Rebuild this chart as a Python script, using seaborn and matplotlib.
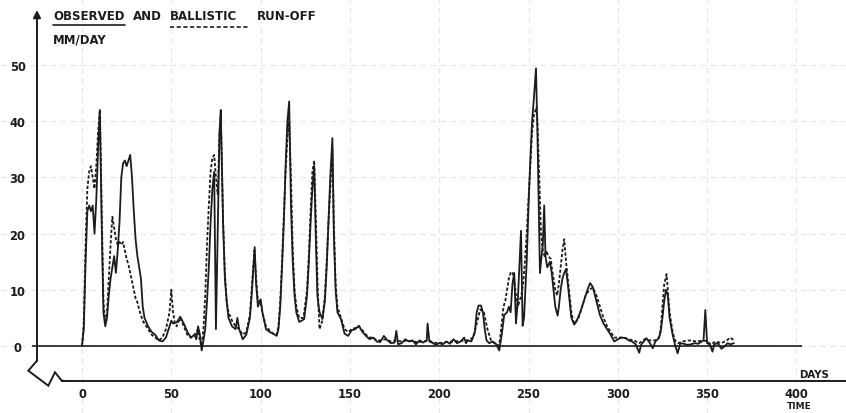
import numpy as np
import pandas as pd
import matplotlib
matplotlib.use("Agg")
import matplotlib.pyplot as plt
import seaborn as sns

# ---------------- data ----------------
obs_day = [0, 1, 2, 3, 4, 5, 6, 7, 8, 9, 10, 11, 12, 13, 14, 15, 16, 17, 18, 19,
           20, 21, 22, 23, 24, 25, 26, 27, 28, 29, 30, 31, 32, 33, 34, 35, 37, 39,
           41, 43, 45, 47, 49, 50, 51, 53, 55, 57, 59, 61, 63, 64, 65, 66, 67, 68,
           69, 70, 71, 72, 73, 74, 75, 76, 77, 77.7, 79, 80, 81, 82, 84, 86, 87,
           88, 90, 92, 94, 95, 96.7, 97.5, 98.5, 100, 101, 103, 105, 107, 109,
           110, 111, 112, 113, 114, 115, 116, 117, 118, 119, 120, 121.6, 123,
           124.4, 126, 127, 128, 129, 130, 131, 131.8, 132.5, 133, 134.6, 136,
           137, 138, 139, 140.2, 141, 142, 143, 145, 146, 147, 149, 151, 153, 155,
           157, 159, 161, 163, 165, 167, 169, 171, 173, 175, 176, 177, 179, 181,
           183, 185, 187, 189, 191, 193, 193.5, 194.5, 196, 198, 200, 202, 204,
           206, 208, 210, 212, 214, 215, 216, 218, 220, 221, 222, 223.4, 224.5,
           225.5, 226.5, 228, 230, 232, 233.6, 235, 236.4, 238, 239, 240, 241, 242,
           243, 244, 245.8, 246.7, 247.5, 249, 250, 251, 252, 253, 254.2, 255,
           256.4, 257, 258, 258.8, 259.5, 260.5, 262, 263, 264, 265, 266.3, 267,
           268, 269, 270, 271, 272, 273, 274, 275.6, 277, 279, 281, 283, 284.5,
           286, 288, 290, 292, 294, 296, 298, 300, 302, 304.6, 306, 308, 310, 312,
           313, 315, 316, 318, 319.6, 321, 323, 324, 325, 326, 327, 328, 329,
           330.7, 332, 333.5, 335, 337, 339, 341, 343, 345, 346, 348, 349, 350,
           351.5, 353, 354, 356, 358, 360, 361.5, 363, 365]
obs_mm = [0, 3, 15, 24, 25, 24, 25, 20, 26, 35, 42, 22, 6, 3.5, 5, 9, 12, 14, 16, 13,
          17, 22, 30, 32.5, 33, 32, 33, 34, 30, 24, 19, 16, 14, 12, 7, 5, 3.5, 2.5,
          2, 1, 0.8, 1.5, 3.5, 4.5, 4, 4.2, 5.2, 4, 2.5, 1.5, 2, 1.2, 3.5, 2, -0.8, 1,
          3, 8, 14, 22, 28, 31, 3, 20, 38, 42, 22, 12, 8, 5, 3.5, 3, 5,
          3, 1.2, 2, 5, 9, 17.6, 11, 7, 8.3, 6, 3, 2.5, 2.2, 1.8,
          3, 7, 14, 22, 32, 40, 43.5, 25, 15, 9, 6, 4.3, 4.5,
          4.8, 9, 15, 22, 28, 32, 18, 9, 7, 6, 4.8, 8,
          14, 22, 30, 37, 20, 10, 6, 4.8, 3.5, 2.2, 1.8, 2.8, 3, 3.6,
          2.5, 1.8, 1.2, 1.5, 0.8, 0.7, 1.8, 1, 0.5, 0.6, 2.7, 0.3, 0.5, 1.2,
          0.8, 1, 0.3, 1, 0.6, 1, 4, 0.8, 0.6, 0.2, 0.5, 0.3, 0.8,
          0.4, 1.2, 0.5, 0.8, 1.5, 0.5, 1, 0.8, 2.5, 6, 7.2, 7.2, 6,
          3, 1, 0.5, 0.8, 0.3, -0.8, 2, 5.5, 6, 7, 6, 11, 13,
          4, 8, 20.5, 3.6, 5, 15, 25, 33, 40, 44, 49.4, 38,
          13, 15, 18, 25, 16, 14, 15, 13, 10, 7, 5.4, 7,
          10, 12, 13, 13.7, 11, 8, 5, 3.8, 4.5, 6, 8, 10, 11.2,
          10.5, 8, 5.5, 4, 3, 2, 0.8, 1.2, 1.5, 1.4, 1, 0.8, 0.3, -1.2,
          0.2, 1, 1.4, 0.5, -0.4, 0.8, 1.4, 2.5, 5, 8, 10, 9, 5,
          2, 0.3, -1.3, 0.5, 0.4, 0.2, 0.3, 0.5, 0.4, 0.6, 1, 6.4, 0.5,
          0.3, -1, 0.3, 0.5, -0.5, 0, 0.5, 0.3, 0.5]

bal_day = [0, 1, 2, 3, 4, 5, 6, 7, 8, 9, 10, 11, 12, 13, 14, 15, 16, 17, 18, 19,
           20, 21, 22, 23, 24, 25, 26, 27, 28, 29, 30, 31, 32, 33, 34, 35, 37, 39,
           41, 43, 45, 47, 49, 50, 51, 52, 53, 55, 57, 59, 61, 63, 65, 66, 67, 68,
           69, 70, 71, 72, 73, 74, 75, 76, 77, 77.7, 79, 80, 81, 82, 84, 86, 88,
           90, 92, 94, 95, 96.5, 97.5, 98.5, 100, 101, 103, 105, 107, 109, 110,
           111, 112, 113, 114, 115, 116, 117, 118, 119, 120, 121.6, 124, 126, 127,
           128, 129, 130, 131, 132, 133, 134.6, 136, 137, 138, 139, 140.2, 141,
           142, 143, 145, 147, 149, 151, 153, 155, 157, 159, 161, 163, 165, 167,
           170, 173, 176, 179, 182, 185, 188, 191, 194, 197, 200, 204, 208, 212,
           216, 219, 221, 223, 225, 227, 229, 231, 233, 234, 235, 236, 237, 238,
           239, 240, 241, 242, 243, 244, 245, 246, 247, 248, 249, 250, 251, 252,
           253, 254.5, 255, 256, 257, 258, 259, 260, 261, 262.5, 263, 264, 265,
           266, 267, 268, 269, 270, 271, 272, 273, 274, 275, 276, 278, 280, 282,
           284, 286, 288, 290, 292, 294, 296, 298, 300, 303, 306, 309, 312, 315,
           318, 321, 323, 324, 325, 326, 327.3, 328, 329, 330.7, 332, 334, 336,
           340, 344, 348, 350, 352, 355, 358, 361, 363, 365]
bal_mm = [0, 4, 18, 28, 31, 32, 30, 28, 32, 38, 42, 25, 8, 4, 6, 12, 18, 23, 21, 19,
          18, 18.5, 18, 18.5, 17, 15.5, 14.5, 13, 11.5, 10, 8.5, 7.8, 6.5, 5.5, 4.5,
          4, 3, 2, 1.5, 1, 1.5, 3, 6, 10, 6, 4, 3.5, 5, 3.5, 2, 1.5, 2, 3, 1, 0, 3,
          9, 18, 25, 31, 33.5, 34, 30, 27, 38, 41, 22, 13, 8, 6, 4.5, 3.5, 3,
          2, 2.5, 5.5, 10, 17, 12, 8, 8, 6, 3.5, 2.8, 2.2, 2, 3.5,
          8, 15, 23, 31, 37, 40, 30, 17, 10, 7, 5, 5, 10, 16,
          24, 31, 33, 22, 10, 3, 4.5, 9, 15, 22, 28, 35, 22,
          11, 7, 5, 3, 2.5, 3, 3.2, 3.5, 2.8, 2, 1.5, 1.5, 1, 1,
          1.2, 0.8, 1, 0.8, 1, 0.8, 0.7, 0.8, 1, 0.6, 0.5, 0.7, 0.8, 0.9,
          1, 1.5, 4, 6.5, 6, 3, 1, 0.5, 0, 1, 4, 7, 8, 10,
          12, 13, 13.2, 12, 9, 7, 8, 9, 11, 15, 20, 26, 32, 38,
          41, 42.5, 40, 30, 20, 17, 16, 17, 16, 15.5, 14, 12, 10,
          9, 11, 14, 17, 19, 15, 12, 9, 6, 4.5, 4, 5, 7, 9,
          10, 10.4, 9, 7, 5, 3.5, 2.5, 1.5, 1.5, 1.5, 1.2, 1, 0.5, 1.2,
          1, 1, 1.5, 3, 7, 11, 12.8, 10, 6, 2.5, 1, 0.5, 0.8,
          1, 0.8, 1, 0.8, 0.3, 0.8, 0.5, 1, 1.5, 1]

x_ticks = [0, 50, 100, 150, 200, 250, 300, 350, 400]
y_ticks = [0, 10, 20, 30, 40, 50]
title_words = ["OBSERVED", "AND", "BALLISTIC", "RUN-OFF"]
y_unit = "MM/DAY"
x_unit = "DAYS"
x_name = "TIME"

# ---------------- style ----------------
sns.set_theme(style="white")
plt.rcParams['font.family'] = ['DejaVu Sans']
INK = '#1c1c1c'
W, H = 846, 414
fig = plt.figure(figsize=(W / 100, H / 100), dpi=100)
ax = fig.add_axes([0, 0, 1, 1])
ax.set_facecolor('white')

X0, PXD = 82.0, 1.786      # pixel of day 0, pixels per day
Y0, PXM = 347.0, 5.62      # pixel of 0 mm/day, pixels per mm/day
def dx(px):
    return (px - X0) / PXD
def dy(py):
    return (Y0 - py) / PXM

df = pd.concat([
    pd.DataFrame({'day': bal_day, 'mm': bal_mm, 'series': 'Ballistic'}),
    pd.DataFrame({'day': obs_day, 'mm': obs_mm, 'series': 'Observed'}),
], ignore_index=True)

sns.lineplot(data=df, x='day', y='mm', style='series',
             style_order=['Ballistic', 'Observed'],
             dashes={'Ballistic': (1.8, 1.1), 'Observed': ''},
             color=INK, linewidth=1.3, estimator=None, sort=False,
             legend=False, ax=ax)

ax.set_xlim(dx(0), dx(W))
ax.set_ylim(dy(H), dy(0))
ax.set_xlabel('')
ax.set_ylabel('')

# faint background grid
ax.grid(True, color='#e6e6e6', linestyle=(0, (5, 4)), linewidth=0.8)
ax.set_axisbelow(True)

# zero line
ax.hlines(0, dx(32), dx(802), color=INK, linewidth=1.2, zorder=1)

# spines
for s in ['top', 'right']:
    ax.spines[s].set_visible(False)
ax.spines['left'].set_position(('data', dx(37)))
ax.spines['left'].set_bounds(dy(362), dy(24))
ax.spines['bottom'].set_position(('data', dy(381.5)))
ax.spines['bottom'].set_bounds(dx(61.5), dx(W))
for s in ['left', 'bottom']:
    ax.spines[s].set_color(INK)
    ax.spines[s].set_linewidth(1.4)

ax.set_xticks(x_ticks)
ax.set_yticks(y_ticks)
ax.set_xticklabels([str(v) for v in x_ticks])
ax.set_yticklabels([str(v) for v in y_ticks])
ax.tick_params(axis='y', direction='out', length=5, width=1.2, color=INK,
               pad=9, labelsize=8.3, labelcolor=INK)
ax.tick_params(axis='x', direction='inout', length=4, width=1.0, color=INK,
               pad=3, labelsize=8.3, labelcolor=INK)
for lbl in ax.get_yticklabels():
    lbl.set_ha('center')
    lbl.set_fontweight('bold')
for lbl in ax.get_xticklabels():
    lbl.set_fontweight('bold')

# ---------------- decorations in pixel coordinates ----------------
ov = fig.add_axes([0, 0, 1, 1], facecolor='none')
ov.set_xlim(0, W)
ov.set_ylim(H, 0)
ov.axis('off')

# arrow on the y axis
ov.annotate('', xy=(37, 11), xytext=(37, 26),
            arrowprops=dict(arrowstyle='-|>', color=INK, lw=1.4,
                            mutation_scale=11, shrinkA=0, shrinkB=0))
# axis break zig-zag
ov.plot([37, 37, 28.3, 48.3, 55, 61.7, 64], [358, 361.7, 371.7, 386.7, 373.3, 381.7, 381.7],
        color=INK, lw=1.4, solid_joinstyle='miter')

fs = 8.5
tx = [53, 133, 170, 257]
for word, x in zip(title_words, tx):
    ov.text(x, 17, word, fontsize=fs, fontweight='bold', color=INK,
            ha='left', va='center')
ov.plot([53, 125], [25.5, 25.5], color=INK, lw=1.2)
ov.plot([170, 250], [28, 28], color=INK, lw=1.2, linestyle=(0, (2.5, 1.5)))
ov.text(53, 40, y_unit, fontsize=8.4, fontweight='bold', color=INK,
        ha='left', va='center')
ov.text(799, 375, x_unit, fontsize=7.3, fontweight='bold', color=INK,
        ha='left', va='center')
ov.text(799, 407, x_name, fontsize=6.5, fontweight='bold', color=INK,
        ha='center', va='center')

fig.savefig('out.png', dpi=100, facecolor='white')
